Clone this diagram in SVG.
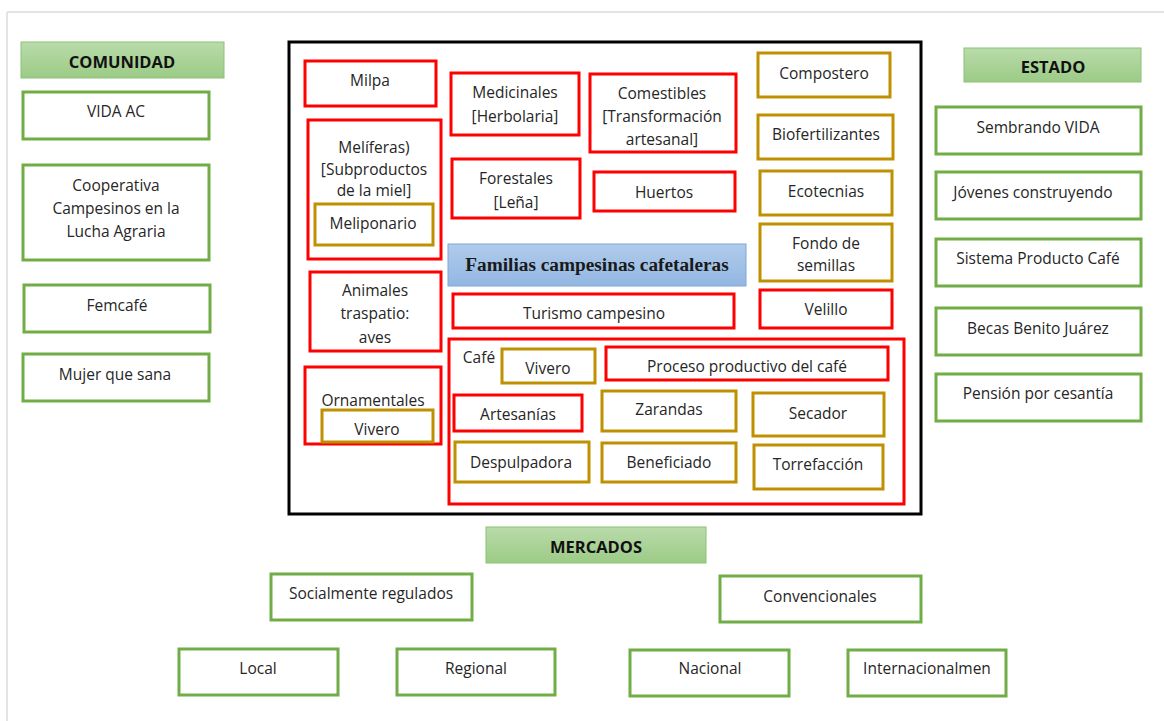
<svg xmlns="http://www.w3.org/2000/svg" width="1164" height="721" viewBox="0 0 1164 721">
<defs>
<linearGradient id="gGreen" x1="0" y1="0" x2="0" y2="1">
<stop offset="0" stop-color="#b9dbaa"/>
<stop offset="1" stop-color="#9ccb86"/>
</linearGradient>
<linearGradient id="gBlue" x1="0" y1="0" x2="0" y2="1">
<stop offset="0" stop-color="#b0cbeb"/>
<stop offset="1" stop-color="#93b7e2"/>
</linearGradient>
</defs>
<style>
text{font-family:"Open Sans","Liberation Sans",sans-serif;font-size:15.5px;fill:#262626;text-anchor:middle;dominant-baseline:central}
.hdr{fill:url(#gGreen);stroke:#8cc275;stroke-width:1}
.hdrt{font-weight:bold;fill:#111;font-size:16.5px}
.g{fill:#fff;stroke:#70ad47;stroke-width:3}
.r{fill:#fff;stroke:#ff0000;stroke-width:3}
.o{fill:#fff;stroke:#bf9000;stroke-width:3}
.main{fill:#fff;stroke:#000;stroke-width:3}
.blue{fill:url(#gBlue);stroke:#7fa7d8;stroke-width:1}
.bt{font-family:"Liberation Serif","Times New Roman",serif;font-weight:bold;font-size:19.3px;fill:#1a1a1a}
.frame{stroke:#e4e4e4;stroke-width:2}
</style>
<rect width="1164" height="721" fill="#fff"/>
<line class="frame" x1="7" y1="12" x2="1164" y2="12"/>
<line class="frame" x1="7" y1="12" x2="7" y2="721"/>

<g id="comunidad">
<rect class="hdr" x="21" y="42" width="203" height="36"/>
<text class="hdrt" x="122" y="61">COMUNIDAD</text>
</g>
<g id="vida-ac"><rect class="g" x="23" y="92" width="186" height="47"/><text x="116" y="111">VIDA AC</text></g>
<g id="cooperativa"><rect class="g" x="23" y="165" width="186" height="95"/>
<text x="116" y="185">Cooperativa</text><text x="116" y="208">Campesinos en la</text><text x="116" y="231">Lucha Agraria</text></g>
<g id="femcafe"><rect class="g" x="24" y="285" width="186" height="47"/><text x="117" y="305">Femcafé</text></g>
<g id="mujer"><rect class="g" x="23" y="354" width="186" height="47"/><text x="115" y="374">Mujer que sana</text></g>

<g id="estado">
<rect class="hdr" x="964" y="48" width="177" height="34"/>
<text class="hdrt" x="1053" y="66">ESTADO</text>
</g>
<g id="sembrando"><rect class="g" x="936" y="107" width="205" height="47"/><text x="1038" y="127">Sembrando VIDA</text></g>
<g id="jovenes"><rect class="g" x="936" y="172" width="205" height="47"/><text x="1033" y="192">Jóvenes construyendo</text></g>
<g id="sistema"><rect class="g" x="936" y="239" width="205" height="47"/><text x="1038" y="258">Sistema Producto Café</text></g>
<g id="becas"><rect class="g" x="936" y="308" width="205" height="47"/><text x="1038" y="328">Becas Benito Juárez</text></g>
<g id="pension"><rect class="g" x="936" y="374" width="205" height="47"/><text x="1038" y="393">Pensión por cesantía</text></g>

<g id="familias-box">
<rect class="main" x="289" y="42" width="632" height="472"/>
</g>
<g id="milpa"><rect class="r" x="305" y="61" width="131" height="45"/><text x="370" y="80">Milpa</text></g>
<g id="medicinales"><rect class="r" x="451" y="73" width="128" height="62"/><text x="515" y="92">Medicinales</text><text x="515" y="116">[Herbolaria]</text></g>
<g id="comestibles"><rect class="r" x="590" y="74" width="146" height="78"/><text x="662" y="93">Comestibles</text><text x="662" y="116">[Transformación</text><text x="662" y="139">artesanal]</text></g>
<g id="compostero"><rect class="o" x="758" y="53" width="132" height="44"/><text x="824" y="73">Compostero</text></g>
<g id="meliferas"><rect class="r" x="308" y="120" width="133" height="139"/>
<text x="374" y="147">Melíferas)</text><text x="374" y="169">[Subproductos</text><text x="374" y="190">de la miel]</text>
<g id="meliponario"><rect class="o" x="315" y="204" width="118" height="41"/><text x="373" y="223">Meliponario</text></g></g>
<g id="biofert"><rect class="o" x="758" y="115" width="135" height="44"/><text x="826" y="134">Biofertilizantes</text></g>
<g id="forestales"><rect class="r" x="452" y="159" width="128" height="59"/><text x="516" y="178">Forestales</text><text x="516" y="202">[Leña]</text></g>
<g id="huertos"><rect class="r" x="594" y="172" width="141" height="39"/><text x="664" y="192">Huertos</text></g>
<g id="ecotecnias"><rect class="o" x="760" y="171" width="132" height="44"/><text x="826" y="191">Ecotecnias</text></g>
<g id="fondo"><rect class="o" x="760" y="224" width="132" height="57"/><text x="826" y="243">Fondo de</text><text x="826" y="265">semillas</text></g>
<g id="familias"><rect class="blue" x="448" y="244" width="298" height="42"/><text class="bt" x="597" y="264">Familias campesinas cafetaleras</text></g>
<g id="animales"><rect class="r" x="310" y="272" width="131" height="79"/><text x="375" y="290">Animales</text><text x="375" y="313">traspatio:</text><text x="375" y="337">aves</text></g>
<g id="turismo"><rect class="r" x="453" y="294" width="281" height="34"/><text x="594" y="313">Turismo campesino</text></g>
<g id="velillo"><rect class="r" x="760" y="290" width="132" height="38"/><text x="826" y="309">Velillo</text></g>
<g id="ornamentales"><rect class="r" x="305" y="367" width="136" height="77"/><text x="373" y="400">Ornamentales</text>
<g id="vivero-orn"><rect class="o" x="322" y="410" width="111" height="32"/><text x="377" y="429">Vivero</text></g></g>
<g id="cafe"><rect class="r" x="449" y="339" width="455" height="165"/><text x="479" y="357">Café</text>
<g id="vivero-cafe"><rect class="o" x="502" y="349" width="93" height="34"/><text x="548" y="368">Vivero</text></g>
<g id="proceso"><rect class="r" x="606" y="347" width="282" height="33"/><text x="747" y="366">Proceso productivo del café</text></g>
<g id="artesanias"><rect class="r" x="454" y="395" width="128" height="36"/><text x="518" y="414">Artesanías</text></g>
<g id="zarandas"><rect class="o" x="602" y="391" width="134" height="40"/><text x="669" y="409">Zarandas</text></g>
<g id="secador"><rect class="o" x="753" y="393" width="131" height="43"/><text x="818" y="413">Secador</text></g>
<g id="despulpadora"><rect class="o" x="455" y="442" width="134" height="40"/><text x="521" y="462">Despulpadora</text></g>
<g id="beneficiado"><rect class="o" x="602" y="443" width="134" height="39"/><text x="669" y="462">Beneficiado</text></g>
<g id="torrefaccion"><rect class="o" x="754" y="445" width="129" height="44"/><text x="818" y="464">Torrefacción</text></g>
</g>

<g id="mercados">
<rect class="hdr" x="486" y="527" width="220" height="36"/>
<text class="hdrt" x="596" y="546">MERCADOS</text>
</g>
<g id="socialmente"><rect class="g" x="271" y="574" width="201" height="46"/><text x="371" y="593">Socialmente regulados</text></g>
<g id="convencionales"><rect class="g" x="720" y="576" width="201" height="46"/><text x="820" y="596">Convencionales</text></g>
<g id="local"><rect class="g" x="179" y="649" width="159" height="46"/><text x="258" y="668">Local</text></g>
<g id="regional"><rect class="g" x="397" y="649" width="158" height="46"/><text x="476" y="668">Regional</text></g>
<g id="nacional"><rect class="g" x="630" y="650" width="159" height="46"/><text x="710" y="668">Nacional</text></g>
<g id="internacional"><rect class="g" x="848" y="650" width="158" height="46"/><text x="927" y="668">Internacionalmen</text></g>
<g id="connectors"></g>
</svg>
